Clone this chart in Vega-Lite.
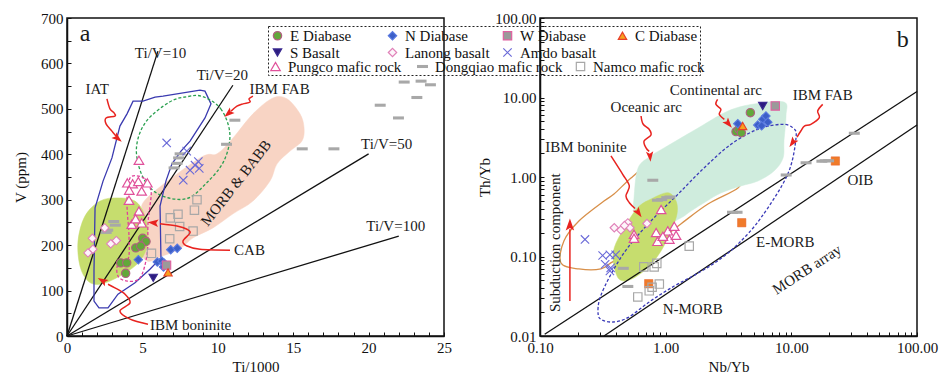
{
"$schema": "https://vega.github.io/schema/vega-lite/v6.json",
"padding": {"left": 12, "top": 10, "right": 2, "bottom": 2},
"spacing": 24,
"config": {
  "font": "Liberation Serif",
  "style": {"guide-label": {"font": "Liberation Serif"}, "guide-title": {"font": "Liberation Serif"}},
  "view": {"stroke": "#111", "strokeWidth": 1.5},
  "axis": {"labelFont": "Liberation Serif", "labelFontSize": 15, "labelColor": "#111", "titleFont": "Liberation Serif", "titleFontSize": 15, "titleFontWeight": "normal", "titleColor": "#111", "domainColor": "#111", "domainWidth": 1.5, "tickColor": "#111", "tickSize": -4, "tickWidth": 1, "labelPadding": 8, "grid": false, "labelFlush": false, "labelOverlap": false},
  "legend": {"labelFont": "Liberation Serif", "labelFontSize": 15, "labelColor": "#111", "titleFont": "Liberation Serif", "strokeDash": [2, 2], "symbolStrokeWidth": 1.2, "symbolOpacity": 1, "labelOffset": 5}
},
"datasets": {
  "ptsA": [
    {"grp":"E Diabase","x":5.02,"y":215},{"grp":"E Diabase","x":5.24,"y":208},{"grp":"E Diabase","x":4.56,"y":194},{"grp":"E Diabase","x":4.89,"y":198},{"grp":"E Diabase","x":3.56,"y":161},{"grp":"E Diabase","x":3.96,"y":161},{"grp":"E Diabase","x":3.89,"y":138},
    {"grp":"N Diabase","x":4.73,"y":168},{"grp":"N Diabase","x":6.88,"y":190},{"grp":"N Diabase","x":7.31,"y":193},{"grp":"N Diabase","x":5.99,"y":163},{"grp":"N Diabase","x":6.28,"y":165},{"grp":"N Diabase","x":6.45,"y":160},{"grp":"N Diabase","x":6.4,"y":152},
    {"grp":"W Diabase","x":6.6,"y":156},
    {"grp":"C Diabase","x":6.7,"y":140},
    {"grp":"S Basalt","x":5.72,"y":128},
    {"grp":"Lanong basalt","x":1.68,"y":215},{"grp":"Lanong basalt","x":1.39,"y":183},{"grp":"Lanong basalt","x":1.72,"y":191},{"grp":"Lanong basalt","x":2.9,"y":203},{"grp":"Lanong basalt","x":3.27,"y":210},{"grp":"Lanong basalt","x":2.5,"y":238},
    {"grp":"Amdo basalt","x":6.61,"y":425},{"grp":"Amdo basalt","x":7.71,"y":343},{"grp":"Amdo basalt","x":8.16,"y":365},{"grp":"Amdo basalt","x":8.49,"y":376},{"grp":"Amdo basalt","x":8.77,"y":369},{"grp":"Amdo basalt","x":8.71,"y":384},{"grp":"Amdo basalt","x":7.94,"y":407},
    {"grp":"Pungco mafic rock","x":4.77,"y":387},{"grp":"Pungco mafic rock","x":4.0,"y":337},{"grp":"Pungco mafic rock","x":4.35,"y":335},{"grp":"Pungco mafic rock","x":4.73,"y":340},{"grp":"Pungco mafic rock","x":5.33,"y":337},{"grp":"Pungco mafic rock","x":4.95,"y":319},{"grp":"Pungco mafic rock","x":4.13,"y":321},{"grp":"Pungco mafic rock","x":4.11,"y":299},{"grp":"Pungco mafic rock","x":4.77,"y":275},{"grp":"Pungco mafic rock","x":4.95,"y":249},{"grp":"Pungco mafic rock","x":4.29,"y":246},{"grp":"Pungco mafic rock","x":4.55,"y":258},
    {"grp":"Dongqiao mafic rock","x":3.1,"y":252},{"grp":"Dongqiao mafic rock","x":3.2,"y":244},{"grp":"Dongqiao mafic rock","x":2.7,"y":233},{"grp":"Dongqiao mafic rock","x":2.6,"y":228},{"grp":"Dongqiao mafic rock","x":7.5,"y":401},{"grp":"Dongqiao mafic rock","x":7.4,"y":392},{"grp":"Dongqiao mafic rock","x":7.3,"y":380},{"grp":"Dongqiao mafic rock","x":7.1,"y":370},{"grp":"Dongqiao mafic rock","x":11.13,"y":475},{"grp":"Dongqiao mafic rock","x":10.58,"y":422},{"grp":"Dongqiao mafic rock","x":15.6,"y":412},{"grp":"Dongqiao mafic rock","x":17.7,"y":412},{"grp":"Dongqiao mafic rock","x":20.77,"y":508},{"grp":"Dongqiao mafic rock","x":21.98,"y":480},{"grp":"Dongqiao mafic rock","x":22.36,"y":559},{"grp":"Dongqiao mafic rock","x":23.2,"y":525},{"grp":"Dongqiao mafic rock","x":23.48,"y":561},{"grp":"Dongqiao mafic rock","x":24.1,"y":553},
    {"grp":"Namco mafic rock","x":6.85,"y":260},{"grp":"Namco mafic rock","x":7.36,"y":268},{"grp":"Namco mafic rock","x":7.47,"y":241},{"grp":"Namco mafic rock","x":6.81,"y":214},{"grp":"Namco mafic rock","x":8.36,"y":231},{"grp":"Namco mafic rock","x":8.45,"y":277},{"grp":"Namco mafic rock","x":8.62,"y":300},{"grp":"Namco mafic rock","x":5.6,"y":182}
  ],
  "polyA": [
    {"id":"MORB","i":1,"x":5.31,"y":304},{"id":"MORB","i":2,"x":8.82,"y":392},{"id":"MORB","i":3,"x":9.95,"y":401},{"id":"MORB","i":4,"x":11.01,"y":436},{"id":"MORB","i":5,"x":12.33,"y":489},{"id":"MORB","i":6,"x":13.66,"y":524},{"id":"MORB","i":7,"x":14.59,"y":522},{"id":"MORB","i":8,"x":15.45,"y":489},{"id":"MORB","i":9,"x":15.72,"y":458},{"id":"MORB","i":10,"x":15.58,"y":429},{"id":"MORB","i":11,"x":14.79,"y":407},{"id":"MORB","i":12,"x":13.93,"y":379},{"id":"MORB","i":13,"x":13.46,"y":341},{"id":"MORB","i":14,"x":12.33,"y":297},{"id":"MORB","i":15,"x":11.01,"y":269},{"id":"MORB","i":16,"x":9.68,"y":238},{"id":"MORB","i":17,"x":8.36,"y":216},{"id":"MORB","i":18,"x":7.49,"y":192},{"id":"MORB","i":19,"x":6.17,"y":174},{"id":"MORB","i":20,"x":5.31,"y":165},{"id":"MORB","i":21,"x":4.84,"y":194},{"id":"MORB","i":22,"x":5.0,"y":264},
    {"id":"BON","i":1,"x":0.73,"y":209},{"id":"BON","i":2,"x":1.19,"y":264},{"id":"BON","i":3,"x":2.19,"y":297},{"id":"BON","i":4,"x":3.32,"y":304},{"id":"BON","i":5,"x":4.51,"y":297},{"id":"BON","i":6,"x":5.17,"y":264},{"id":"BON","i":7,"x":5.37,"y":209},{"id":"BON","i":8,"x":4.84,"y":165},{"id":"BON","i":9,"x":3.51,"y":132},{"id":"BON","i":10,"x":2.19,"y":114},{"id":"BON","i":11,"x":1.39,"y":121},{"id":"BON","i":12,"x":0.86,"y":154},
    {"id":"IAT","i":1,"x":4.38,"y":517},{"id":"IAT","i":2,"x":5.04,"y":517},{"id":"IAT","i":3,"x":5.84,"y":526},{"id":"IAT","i":4,"x":6.37,"y":528},{"id":"IAT","i":5,"x":8.82,"y":541},{"id":"IAT","i":6,"x":9.15,"y":539},{"id":"IAT","i":7,"x":9.55,"y":511},{"id":"IAT","i":8,"x":9.15,"y":480},{"id":"IAT","i":9,"x":8.16,"y":429},{"id":"IAT","i":10,"x":7.56,"y":407},{"id":"IAT","i":11,"x":6.96,"y":379},{"id":"IAT","i":12,"x":6.56,"y":341},{"id":"IAT","i":13,"x":6.17,"y":286},{"id":"IAT","i":14,"x":6.23,"y":172},{"id":"IAT","i":15,"x":5.5,"y":147},{"id":"IAT","i":16,"x":4.51,"y":117},{"id":"IAT","i":17,"x":3.38,"y":92},{"id":"IAT","i":18,"x":2.72,"y":62},{"id":"IAT","i":19,"x":2.12,"y":62},{"id":"IAT","i":20,"x":1.79,"y":77},{"id":"IAT","i":21,"x":1.79,"y":143},{"id":"IAT","i":22,"x":1.86,"y":282},{"id":"IAT","i":23,"x":2.39,"y":341},{"id":"IAT","i":24,"x":2.98,"y":392},{"id":"IAT","i":25,"x":3.51,"y":462},{"id":"IAT","i":26,"x":3.98,"y":489},
    {"id":"FAB","i":1,"x":9.0,"y":527},{"id":"FAB","i":2,"x":10.2,"y":500},{"id":"FAB","i":3,"x":10.8,"y":445},{"id":"FAB","i":4,"x":10.4,"y":385},{"id":"FAB","i":5,"x":9.2,"y":335},{"id":"FAB","i":6,"x":7.9,"y":302},{"id":"FAB","i":7,"x":6.2,"y":310},{"id":"FAB","i":8,"x":5.1,"y":345},{"id":"FAB","i":9,"x":4.6,"y":410},{"id":"FAB","i":10,"x":5.2,"y":470},{"id":"FAB","i":11,"x":6.8,"y":515},{"id":"FAB","i":12,"x":8.0,"y":527},
    {"id":"PUN","i":1,"x":4.31,"y":352},{"id":"PUN","i":2,"x":5.17,"y":346},{"id":"PUN","i":3,"x":5.57,"y":319},{"id":"PUN","i":4,"x":5.5,"y":286},{"id":"PUN","i":5,"x":5.37,"y":247},{"id":"PUN","i":6,"x":5.31,"y":180},{"id":"PUN","i":7,"x":4.84,"y":128},{"id":"PUN","i":8,"x":3.98,"y":121},{"id":"PUN","i":9,"x":3.38,"y":132},{"id":"PUN","i":10,"x":3.38,"y":158},{"id":"PUN","i":11,"x":4.05,"y":169},{"id":"PUN","i":12,"x":4.11,"y":220},{"id":"PUN","i":13,"x":3.98,"y":286},{"id":"PUN","i":14,"x":4.05,"y":330}
  ],
  "linesA": [
    {"id":"10","i":1,"x":0,"y":0},{"id":"10","i":2,"x":6.03,"y":627},
    {"id":"20","i":1,"x":0,"y":0},{"id":"20","i":2,"x":11.0,"y":552},
    {"id":"50","i":1,"x":0,"y":0},{"id":"50","i":2,"x":20.0,"y":401},
    {"id":"100","i":1,"x":0,"y":0},{"id":"100","i":2,"x":22.0,"y":220}
  ],
  "arrA": [
    {"id":"IAT","i":1,"x":2.65,"y":522},{"id":"IAT","i":2,"x":2.85,"y":500},{"id":"IAT","i":3,"x":3.12,"y":491},{"id":"IAT","i":4,"x":3.18,"y":484},{"id":"IAT","i":5,"x":2.59,"y":480},{"id":"IAT","i":6,"x":2.59,"y":467},{"id":"IAT","i":7,"x":2.98,"y":451},{"id":"IAT","i":8,"x":3.25,"y":440},
    {"id":"FAB","i":1,"x":12.33,"y":528},{"id":"FAB","i":2,"x":12.07,"y":522},{"id":"FAB","i":3,"x":12.14,"y":515},{"id":"FAB","i":4,"x":11.67,"y":511},{"id":"FAB","i":5,"x":11.27,"y":506},{"id":"FAB","i":6,"x":10.88,"y":495},
    {"id":"CAB","i":1,"x":10.81,"y":189},{"id":"CAB","i":2,"x":8.82,"y":191},{"id":"CAB","i":3,"x":7.96,"y":198},{"id":"CAB","i":4,"x":7.69,"y":209},{"id":"CAB","i":5,"x":8.16,"y":227},{"id":"CAB","i":6,"x":7.96,"y":235},{"id":"CAB","i":7,"x":7.29,"y":242},{"id":"CAB","i":8,"x":6.17,"y":247},
    {"id":"BON","i":1,"x":5.37,"y":26},{"id":"BON","i":2,"x":4.18,"y":37},{"id":"BON","i":3,"x":3.51,"y":55},{"id":"BON","i":4,"x":4.18,"y":73},{"id":"BON","i":5,"x":3.85,"y":92},{"id":"BON","i":6,"x":3.18,"y":106},{"id":"BON","i":7,"x":2.72,"y":114}
  ],
  "headA": [
    {"id":"IAT","x":3.32,"y":436},{"id":"FAB","x":10.74,"y":491},{"id":"CAB","x":5.77,"y":249},{"id":"BON","x":2.39,"y":121}
  ],
  "txtA": [
    {"t":"Ti/V=10","x":6.2,"y":623},{"t":"Ti/V=20","x":10.3,"y":575},{"t":"IAT","x":2.0,"y":544},{"t":"IBM  FAB","x":14.1,"y":544},{"t":"Ti/V=50","x":21.2,"y":423},{"t":"Ti/V=100","x":21.8,"y":242},{"t":"CAB","x":12.1,"y":189},{"t":"IBM  boninite","x":8.2,"y":24}
  ],
  "ptsB": [
    {"grp":"E Diabase","x":4.72,"y":6.44},{"grp":"E Diabase","x":3.63,"y":3.72},{"grp":"E Diabase","x":3.83,"y":4.0},{"grp":"E Diabase","x":4.0,"y":3.6},
    {"grp":"N Diabase","x":3.75,"y":4.68},{"grp":"N Diabase","x":5.4,"y":4.5},{"grp":"N Diabase","x":5.92,"y":5.32},{"grp":"N Diabase","x":6.28,"y":5.85},{"grp":"N Diabase","x":5.8,"y":4.4},{"grp":"N Diabase","x":6.5,"y":4.9},
    {"grp":"S Basalt","x":5.92,"y":7.82},
    {"grp":"W Diabase","x":7.45,"y":7.82},
    {"grp":"C Diabase","x":4.1,"y":4.38},
    {"grp":"Lanong basalt","x":0.39,"y":0.23},{"grp":"Lanong basalt","x":0.44,"y":0.215},{"grp":"Lanong basalt","x":0.5,"y":0.265},{"grp":"Lanong basalt","x":0.52,"y":0.23},{"grp":"Lanong basalt","x":0.71,"y":0.26},{"grp":"Lanong basalt","x":0.47,"y":0.245},
    {"grp":"Amdo basalt","x":0.228,"y":0.164},{"grp":"Amdo basalt","x":0.315,"y":0.103},{"grp":"Amdo basalt","x":0.36,"y":0.105},{"grp":"Amdo basalt","x":0.4,"y":0.105},{"grp":"Amdo basalt","x":0.33,"y":0.08},{"grp":"Amdo basalt","x":0.365,"y":0.072},{"grp":"Amdo basalt","x":0.36,"y":0.066},
    {"grp":"Pungco mafic rock","x":0.92,"y":0.39},{"grp":"Pungco mafic rock","x":0.56,"y":0.19},{"grp":"Pungco mafic rock","x":0.56,"y":0.17},{"grp":"Pungco mafic rock","x":0.84,"y":0.2},{"grp":"Pungco mafic rock","x":0.86,"y":0.155},{"grp":"Pungco mafic rock","x":1.04,"y":0.21},{"grp":"Pungco mafic rock","x":1.07,"y":0.165},{"grp":"Pungco mafic rock","x":1.17,"y":0.24},{"grp":"Pungco mafic rock","x":1.21,"y":0.185},{"grp":"Pungco mafic rock","x":0.95,"y":0.18},
    {"grp":"Dongqiao mafic rock","x":0.79,"y":0.91},{"grp":"Dongqiao mafic rock","x":0.86,"y":0.51},{"grp":"Dongqiao mafic rock","x":0.93,"y":0.52},{"grp":"Dongqiao mafic rock","x":1.02,"y":0.55},{"grp":"Dongqiao mafic rock","x":1.08,"y":0.56},{"grp":"Dongqiao mafic rock","x":3.4,"y":0.36},{"grp":"Dongqiao mafic rock","x":3.7,"y":0.36},{"grp":"Dongqiao mafic rock","x":9.1,"y":1.06},{"grp":"Dongqiao mafic rock","x":13.1,"y":1.51},{"grp":"Dongqiao mafic rock","x":17.5,"y":1.58},{"grp":"Dongqiao mafic rock","x":18.6,"y":1.6},{"grp":"Dongqiao mafic rock","x":19.8,"y":1.6},{"grp":"Dongqiao mafic rock","x":31.7,"y":3.55},{"grp":"Dongqiao mafic rock","x":0.46,"y":0.071},{"grp":"Dongqiao mafic rock","x":0.5,"y":0.042},
    {"grp":"Namco mafic rock","x":0.67,"y":0.074},{"grp":"Namco mafic rock","x":0.81,"y":0.074},{"grp":"Namco mafic rock","x":0.85,"y":0.082},{"grp":"Namco mafic rock","x":1.54,"y":0.135},{"grp":"Namco mafic rock","x":0.89,"y":0.045},{"grp":"Namco mafic rock","x":0.74,"y":0.037},{"grp":"Namco mafic rock","x":0.6,"y":0.031},{"grp":"Namco mafic rock","x":0.78,"y":0.041}
  ],
  "orangeB": [{"x":22.4,"y":1.59},{"x":4.03,"y":0.266},{"x":0.733,"y":0.0455}],
  "polyB": [
    {"id":"ORA","i":1,"x":1.21,"y":2.38},{"id":"ORA","i":2,"x":0.764,"y":1.55},{"id":"ORA","i":3,"x":0.53,"y":0.971},{"id":"ORA","i":4,"x":0.388,"y":0.611},{"id":"ORA","i":5,"x":0.323,"y":0.499},{"id":"ORA","i":6,"x":0.204,"y":0.28},{"id":"ORA","i":7,"x":0.155,"y":0.157},{"id":"ORA","i":8,"x":0.147,"y":0.0828},{"id":"ORA","i":9,"x":0.204,"y":0.0697},{"id":"ORA","i":10,"x":0.305,"y":0.0697},{"id":"ORA","i":11,"x":0.388,"y":0.0877},{"id":"ORA","i":12,"x":0.637,"y":0.117},{"id":"ORA","i":13,"x":0.918,"y":0.166},{"id":"ORA","i":14,"x":1.32,"y":0.257},{"id":"ORA","i":15,"x":2.17,"y":0.457},{"id":"ORA","i":16,"x":3.76,"y":0.728},{"id":"ORA","i":17,"x":4.05,"y":1.03},
    {"id":"PAL","i":1,"x":0.56,"y":0.545},{"id":"PAL","i":2,"x":0.603,"y":1.3},{"id":"PAL","i":3,"x":0.764,"y":1.84},{"id":"PAL","i":4,"x":0.97,"y":2.32},{"id":"PAL","i":5,"x":1.81,"y":4.13},{"id":"PAL","i":6,"x":3.13,"y":6.76},{"id":"PAL","i":7,"x":5.04,"y":8.28},{"id":"PAL","i":8,"x":8.74,"y":8.77},{"id":"PAL","i":9,"x":9.07,"y":5.85},{"id":"PAL","i":10,"x":8.74,"y":2.84},{"id":"PAL","i":11,"x":8.59,"y":1.73},{"id":"PAL","i":12,"x":7.28,"y":1.19},{"id":"PAL","i":13,"x":5.43,"y":0.891},{"id":"PAL","i":14,"x":3.97,"y":0.771},{"id":"PAL","i":15,"x":2.75,"y":0.629},{"id":"PAL","i":16,"x":2.13,"y":0.499},{"id":"PAL","i":17,"x":1.59,"y":0.373},{"id":"PAL","i":18,"x":1.32,"y":0.305},{"id":"PAL","i":19,"x":0.918,"y":0.242},{"id":"PAL","i":20,"x":0.637,"y":0.296},{"id":"PAL","i":21,"x":0.56,"y":0.373},
    {"id":"BON","i":1,"x":1.04,"y":0.635},{"id":"BON","i":2,"x":1.21,"y":0.499},{"id":"BON","i":3,"x":1.23,"y":0.34},{"id":"BON","i":4,"x":1.1,"y":0.21},{"id":"BON","i":5,"x":0.918,"y":0.117},{"id":"BON","i":6,"x":0.719,"y":0.0723},{"id":"BON","i":7,"x":0.53,"y":0.0516},{"id":"BON","i":8,"x":0.428,"y":0.0516},{"id":"BON","i":9,"x":0.386,"y":0.0798},{"id":"BON","i":10,"x":0.39,"y":0.129},{"id":"BON","i":11,"x":0.469,"y":0.23},{"id":"BON","i":12,"x":0.598,"y":0.411},{"id":"BON","i":13,"x":0.764,"y":0.528},
    {"id":"FAB","i":1,"x":10.26,"y":4.17},{"id":"FAB","i":2,"x":10.9,"y":3.12},{"id":"FAB","i":3,"x":9.35,"y":1.08},{"id":"FAB","i":4,"x":5.74,"y":0.308},{"id":"FAB","i":5,"x":3.74,"y":0.142},{"id":"FAB","i":6,"x":2.59,"y":0.088},{"id":"FAB","i":7,"x":1.75,"y":0.06},{"id":"FAB","i":8,"x":1.17,"y":0.0425},{"id":"FAB","i":9,"x":0.76,"y":0.0276},{"id":"FAB","i":10,"x":0.5,"y":0.017},{"id":"FAB","i":11,"x":0.38,"y":0.015},{"id":"FAB","i":12,"x":0.31,"y":0.016},{"id":"FAB","i":13,"x":0.29,"y":0.019},{"id":"FAB","i":14,"x":0.3,"y":0.03},{"id":"FAB","i":15,"x":0.367,"y":0.0597},{"id":"FAB","i":16,"x":0.499,"y":0.129},{"id":"FAB","i":17,"x":0.764,"y":0.28},{"id":"FAB","i":18,"x":1.25,"y":0.605},{"id":"FAB","i":19,"x":2.03,"y":1.31},{"id":"FAB","i":20,"x":3.31,"y":2.58},{"id":"FAB","i":21,"x":5.4,"y":3.98},{"id":"FAB","i":22,"x":8.28,"y":4.6}
  ],
  "linesB": [
    {"id":"up","i":1,"x":0.109,"y":0.0105},{"id":"up","i":2,"x":100,"y":11.9},
    {"id":"lo","i":1,"x":0.323,"y":0.01},{"id":"lo","i":2,"x":100,"y":4.5}
  ],
  "arrB": [
    {"id":"SUB","i":1,"x":0.173,"y":0.0276},{"id":"SUB","i":2,"x":0.173,"y":0.22},
    {"id":"OCE","i":1,"x":0.637,"y":5.85},{"id":"OCE","i":2,"x":0.661,"y":4.64},{"id":"OCE","i":3,"x":0.736,"y":4.02},{"id":"OCE","i":4,"x":0.764,"y":3.38},{"id":"OCE","i":5,"x":0.673,"y":2.84},{"id":"OCE","i":6,"x":0.698,"y":2.32},{"id":"OCE","i":7,"x":0.74,"y":2.1},
    {"id":"CON","i":1,"x":2.59,"y":9.48},{"id":"CON","i":2,"x":2.51,"y":8.2},{"id":"CON","i":3,"x":2.75,"y":7.1},{"id":"CON","i":4,"x":2.67,"y":6.15},{"id":"CON","i":5,"x":2.93,"y":5.32},
    {"id":"FAB","i":1,"x":17.77,"y":8.2},{"id":"FAB","i":2,"x":16.2,"y":6.76},{"id":"FAB","i":3,"x":16.7,"y":5.57},{"id":"FAB","i":4,"x":14.3,"y":4.6},{"id":"FAB","i":5,"x":12.7,"y":4.38},{"id":"FAB","i":6,"x":11.9,"y":3.79},{"id":"FAB","i":7,"x":11.1,"y":3.18},
    {"id":"BON","i":1,"x":0.367,"y":1.84},{"id":"BON","i":2,"x":0.455,"y":1.08},{"id":"BON","i":3,"x":0.514,"y":0.771},{"id":"BON","i":4,"x":0.483,"y":0.577},{"id":"BON","i":5,"x":0.514,"y":0.475},{"id":"BON","i":6,"x":0.571,"y":0.402}
  ],
  "headB": [
    {"id":"SUB","x":0.173,"y":0.245},{"id":"OCE","x":0.75,"y":1.85},{"id":"CON","x":3.13,"y":4.77},{"id":"FAB","x":10.3,"y":2.75},{"id":"BON","x":0.603,"y":0.36}
  ],
  "txtB": [
    {"t":"Continental arc","x":2.51,"y":12.3},{"t":"IBM  FAB","x":17.8,"y":10.7},{"t":"Oceanic arc","x":0.7,"y":7.6},{"t":"IBM  boninite","x":0.232,"y":2.38},{"t":"E-MORB","x":8.95,"y":0.1535},{"t":"OIB","x":35.4,"y":0.917},{"t":"N-MORB","x":1.64,"y":0.0217}
  ]
},
"hconcat": [
  {
    "width": 377, "height": 318,
    "encoding": {
      "x": {"field": "x", "type": "quantitative", "scale": {"domain": [0, 25], "nice": false}, "axis": {"title": "Ti/1000", "values": [0,1,2,3,4,5,6,7,8,9,10,11,12,13,14,15,16,17,18,19,20,21,22,23,24,25], "labelExpr": "datum.value % 5 === 0 ? datum.label : ''", "titlePadding": 4}},
      "y": {"field": "y", "type": "quantitative", "scale": {"domain": [0, 700], "nice": false}, "axis": {"title": "V (ppm)", "values": [0,50,100,150,200,250,300,350,400,450,500,550,600,650,700], "labelExpr": "datum.value % 100 === 0 ? datum.label : ''", "titlePadding": 12}}
    },
    "layer": [
      {"data": {"name": "polyA"}, "transform": [{"filter": "datum.id === 'MORB'"}], "mark": {"type": "line", "interpolate": "cardinal-closed", "fill": "#f8d4c4", "stroke": "#f8d4c4", "strokeWidth": 0.5}, "encoding": {"order": {"field": "i", "type": "quantitative"}}},
      {"data": {"name": "polyA"}, "transform": [{"filter": "datum.id === 'BON'"}], "mark": {"type": "line", "interpolate": "cardinal-closed", "fill": "#c6dd6e", "stroke": "#c6dd6e", "strokeWidth": 0.5}, "encoding": {"order": {"field": "i", "type": "quantitative"}}},
      {"data": {"name": "linesA"}, "mark": {"type": "line", "stroke": "#111", "strokeWidth": 1.3}, "encoding": {"detail": {"field": "id"}, "order": {"field": "i", "type": "quantitative"}}},
      {"data": {"name": "polyA"}, "transform": [{"filter": "datum.id === 'IAT'"}], "mark": {"type": "line", "interpolate": "linear-closed", "stroke": "#3a3ab0", "strokeWidth": 1.3}, "encoding": {"order": {"field": "i", "type": "quantitative"}}},
      {"data": {"name": "polyA"}, "transform": [{"filter": "datum.id === 'FAB'"}], "mark": {"type": "line", "interpolate": "cardinal-closed", "stroke": "#2aa050", "strokeWidth": 1.3, "strokeDash": [3, 2]}, "encoding": {"order": {"field": "i", "type": "quantitative"}}},
      {"data": {"name": "polyA"}, "transform": [{"filter": "datum.id === 'PUN'"}], "mark": {"type": "line", "interpolate": "cardinal-closed", "stroke": "#e0409a", "strokeWidth": 1.3, "strokeDash": [3, 2]}, "encoding": {"order": {"field": "i", "type": "quantitative"}}},
      {"data": {"name": "ptsA"}, "transform": [{"filter": "datum.grp === 'Pungco mafic rock'"}], "mark": {"type": "point", "shape": "triangle-up", "filled": false, "fill": "white", "stroke": "#e0509a", "size": 90, "opacity": 1, "strokeWidth": 1.2},
       "encoding": {"strokeDash": {"field": "grp", "type": "nominal", "scale": {"domain": ["Pungco mafic rock"], "range": [[1, 0]]},
         "legend": {"orient": "none", "legendX": 201, "legendY": 41, "title": null, "padding": 0, "symbolSize": 90, "labelFont": "Liberation Serif", "labelFontSize": 15}}}},
      {"data": {"name": "ptsA"}, "transform": [{"filter": "datum.grp === 'Dongqiao mafic rock'"}], "mark": {"type": "point", "shape": "M-1,-0.28H1V0.28H-1Z", "filled": true, "size": 120, "opacity": 1, "strokeWidth": 0},
       "encoding": {"color": {"field": "grp", "type": "nominal", "scale": {"domain": ["Dongqiao mafic rock"], "range": ["#a8a8a8"]},
         "legend": {"orient": "none", "legendX": 348, "legendY": 41, "title": null, "padding": 0, "symbolSize": 120, "symbolStrokeWidth": 0, "labelFont": "Liberation Serif", "labelFontSize": 15}}}},
      {"data": {"name": "ptsA"}, "transform": [{"filter": "datum.grp === 'Namco mafic rock'"}], "mark": {"type": "point", "shape": "square", "filled": false, "fill": "transparent", "stroke": "#a8a8a8", "size": 70, "opacity": 1, "strokeWidth": 1.2},
       "encoding": {"opacity": {"field": "grp", "type": "nominal", "scale": {"domain": ["Namco mafic rock"], "range": [1, 1]},
         "legend": {"orient": "none", "legendX": 506, "legendY": 41, "title": null, "padding": 0, "symbolSize": 70, "labelFont": "Liberation Serif", "labelFontSize": 15}}}},
      {"data": {"name": "ptsA"}, "transform": [{"filter": {"field": "grp", "oneOf": ["E Diabase", "N Diabase", "W Diabase", "C Diabase", "S Basalt", "Lanong basalt", "Amdo basalt"]}}],
       "mark": {"type": "point", "filled": true, "size": 70, "opacity": 1, "strokeWidth": 1.1},
       "encoding": {
         "shape": {"field": "grp", "type": "nominal", "scale": {"domain": ["E Diabase", "N Diabase", "W Diabase", "C Diabase", "S Basalt", "Lanong basalt", "Amdo basalt"], "range": ["circle", "diamond", "square", "triangle-up", "triangle-down", "diamond", "M-1,-1L1,1M-1,1L1,-1"]},
           "legend": {"orient": "none", "legendX": 201, "legendY": 8, "columns": 4, "direction": "horizontal", "gridAlign": "all", "columnPadding": 10, "rowPadding": 1, "title": " ", "titleOrient": "bottom", "titleFontSize": 11, "titlePadding": 1, "padding": 2, "strokeColor": "#222", "symbolSize": 70, "labelFont": "Liberation Serif", "labelFontSize": 15}},
         "fill": {"field": "grp", "type": "nominal", "scale": {"domain": ["E Diabase", "N Diabase", "W Diabase", "C Diabase", "S Basalt", "Lanong basalt", "Amdo basalt"], "range": ["#62a83a", "#3c5fc8", "#9a9a9a", "#f6a21e", "#2c1b80", "#fdf5fa", "transparent"]}},
         "stroke": {"field": "grp", "type": "nominal", "scale": {"domain": ["E Diabase", "N Diabase", "W Diabase", "C Diabase", "S Basalt", "Lanong basalt", "Amdo basalt"], "range": ["#b06080", "#5a7ae0", "#e060a0", "#e8402a", "#3a2a90", "#e080b8", "#6a6ad8"]}}
       }},
      {"data": {"name": "arrA"}, "mark": {"type": "line", "interpolate": "cardinal", "stroke": "#e8231f", "strokeWidth": 1.5}, "encoding": {"detail": {"field": "id"}, "order": {"field": "i", "type": "quantitative"}}},
      {"data": {"name": "headA"}, "transform": [{"filter": "datum.id === 'IAT'"}], "mark": {"type": "point", "shape": "M0,-1L0.6,0.7L0,0.35L-0.6,0.7Z", "filled": true, "fill": "#e8231f", "strokeWidth": 0, "size": 150, "angle": 130, "opacity": 1}},
      {"data": {"name": "headA"}, "transform": [{"filter": "datum.id === 'FAB'"}], "mark": {"type": "point", "shape": "M0,-1L0.6,0.7L0,0.35L-0.6,0.7Z", "filled": true, "fill": "#e8231f", "strokeWidth": 0, "size": 150, "angle": 230, "opacity": 1}},
      {"data": {"name": "headA"}, "transform": [{"filter": "datum.id === 'CAB'"}], "mark": {"type": "point", "shape": "M0,-1L0.6,0.7L0,0.35L-0.6,0.7Z", "filled": true, "fill": "#e8231f", "strokeWidth": 0, "size": 150, "angle": 275, "opacity": 1}},
      {"data": {"name": "headA"}, "transform": [{"filter": "datum.id === 'BON'"}], "mark": {"type": "point", "shape": "M0,-1L0.6,0.7L0,0.35L-0.6,0.7Z", "filled": true, "fill": "#e8231f", "strokeWidth": 0, "size": 150, "angle": 300, "opacity": 1}},
      {"data": {"name": "txtA"}, "mark": {"type": "text", "font": "Liberation Serif", "fontSize": 15, "fill": "#1a1a1a"}, "encoding": {"text": {"field": "t"}}},
      {"data": {"values": [{"t": "MORB & BABB", "x": 11.2, "y": 337}]}, "mark": {"type": "text", "font": "Liberation Serif", "fontSize": 15, "fill": "#1a1a1a", "angle": -52}, "encoding": {"text": {"field": "t"}}},
      {"data": {"values": [{"t": "a", "x": 1.2, "y": 665}]}, "mark": {"type": "text", "font": "Liberation Serif", "fontSize": 24, "fill": "#1a1a1a"}, "encoding": {"text": {"field": "t"}}}
    ]
  },
  {
    "width": 377, "height": 318,
    "encoding": {
      "x": {"field": "x", "type": "quantitative", "scale": {"type": "log", "domain": [0.1, 100], "nice": false}, "axis": {"title": "Nb/Yb", "values": [0.1,0.2,0.3,0.4,0.5,0.6,0.7,0.8,0.9,1,2,3,4,5,6,7,8,9,10,20,30,40,50,60,70,80,90,100], "labelExpr": "indexof([0.1,1,10,100], datum.value) >= 0 ? format(datum.value, '.2f') : ''", "titlePadding": 4}},
      "y": {"field": "y", "type": "quantitative", "scale": {"type": "log", "domain": [0.01, 100], "nice": false}, "axis": {"title": "Th/Yb", "values": [0.01,0.02,0.03,0.04,0.05,0.06,0.07,0.08,0.09,0.1,0.2,0.3,0.4,0.5,0.6,0.7,0.8,0.9,1,2,3,4,5,6,7,8,9,10,20,30,40,50,60,70,80,90,100], "labelExpr": "indexof([0.01,0.1,1,10,100], datum.value) >= 0 ? format(datum.value, '.2f') : ''", "titlePadding": 2}}
    },
    "layer": [
      {"data": {"name": "polyB"}, "transform": [{"filter": "datum.id === 'ORA'"}], "mark": {"type": "line", "interpolate": "cardinal", "stroke": "#d8904a", "strokeWidth": 1.3}, "encoding": {"order": {"field": "i", "type": "quantitative"}}},
      {"data": {"name": "polyB"}, "transform": [{"filter": "datum.id === 'PAL'"}], "mark": {"type": "line", "interpolate": "cardinal-closed", "fill": "#cfecdd", "stroke": "#cfecdd", "strokeWidth": 0.5}, "encoding": {"order": {"field": "i", "type": "quantitative"}}},
      {"data": {"name": "polyB"}, "transform": [{"filter": "datum.id === 'BON'"}], "mark": {"type": "line", "interpolate": "cardinal-closed", "fill": "#c6dd6e", "stroke": "#c6dd6e", "strokeWidth": 0.5}, "encoding": {"order": {"field": "i", "type": "quantitative"}}},
      {"data": {"name": "linesB"}, "mark": {"type": "line", "stroke": "#111", "strokeWidth": 1.3}, "encoding": {"detail": {"field": "id"}, "order": {"field": "i", "type": "quantitative"}}},
      {"data": {"name": "polyB"}, "transform": [{"filter": "datum.id === 'FAB'"}], "mark": {"type": "line", "interpolate": "cardinal-closed", "stroke": "#3a3ab8", "strokeWidth": 1.3, "strokeDash": [3, 2]}, "encoding": {"order": {"field": "i", "type": "quantitative"}}},
      {"data": {"name": "orangeB"}, "mark": {"type": "point", "shape": "square", "filled": true, "fill": "#f07b2a", "stroke": "#e8602a", "strokeWidth": 0.5, "size": 70, "opacity": 1}},
      {"data": {"name": "ptsB"}, "transform": [{"filter": "datum.grp === 'Pungco mafic rock'"}], "mark": {"type": "point", "shape": "triangle-up", "filled": false, "fill": "white", "stroke": "#e0509a", "size": 90, "opacity": 1, "strokeWidth": 1.2},
       "encoding": {"strokeDash": {"field": "grp", "type": "nominal", "scale": {"domain": ["Pungco mafic rock"], "range": [[1, 0]]},
         "legend": {"orient": "none", "legendX": 201, "legendY": 41, "title": null, "padding": 0, "symbolSize": 90, "labelFont": "Liberation Serif", "labelFontSize": 15}}}},
      {"data": {"name": "ptsB"}, "transform": [{"filter": "datum.grp === 'Dongqiao mafic rock'"}], "mark": {"type": "point", "shape": "M-1,-0.28H1V0.28H-1Z", "filled": true, "size": 120, "opacity": 1, "strokeWidth": 0},
       "encoding": {"color": {"field": "grp", "type": "nominal", "scale": {"domain": ["Dongqiao mafic rock"], "range": ["#a8a8a8"]},
         "legend": {"orient": "none", "legendX": 348, "legendY": 41, "title": null, "padding": 0, "symbolSize": 120, "symbolStrokeWidth": 0, "labelFont": "Liberation Serif", "labelFontSize": 15}}}},
      {"data": {"name": "ptsB"}, "transform": [{"filter": "datum.grp === 'Namco mafic rock'"}], "mark": {"type": "point", "shape": "square", "filled": false, "fill": "transparent", "stroke": "#a8a8a8", "size": 70, "opacity": 1, "strokeWidth": 1.2},
       "encoding": {"opacity": {"field": "grp", "type": "nominal", "scale": {"domain": ["Namco mafic rock"], "range": [1, 1]},
         "legend": {"orient": "none", "legendX": 506, "legendY": 41, "title": null, "padding": 0, "symbolSize": 70, "labelFont": "Liberation Serif", "labelFontSize": 15}}}},
      {"data": {"name": "ptsB"}, "transform": [{"filter": {"field": "grp", "oneOf": ["E Diabase", "N Diabase", "W Diabase", "C Diabase", "S Basalt", "Lanong basalt", "Amdo basalt"]}}],
       "mark": {"type": "point", "filled": true, "size": 70, "opacity": 1, "strokeWidth": 1.1},
       "encoding": {
         "shape": {"field": "grp", "type": "nominal", "scale": {"domain": ["E Diabase", "N Diabase", "W Diabase", "C Diabase", "S Basalt", "Lanong basalt", "Amdo basalt"], "range": ["circle", "diamond", "square", "triangle-up", "triangle-down", "diamond", "M-1,-1L1,1M-1,1L1,-1"]},
           "legend": {"orient": "none", "legendX": 201, "legendY": 8, "columns": 4, "direction": "horizontal", "gridAlign": "all", "columnPadding": 10, "rowPadding": 1, "title": " ", "titleOrient": "bottom", "titleFontSize": 11, "titlePadding": 1, "padding": 2, "strokeColor": "#222", "symbolSize": 70, "labelFont": "Liberation Serif", "labelFontSize": 15}},
         "fill": {"field": "grp", "type": "nominal", "scale": {"domain": ["E Diabase", "N Diabase", "W Diabase", "C Diabase", "S Basalt", "Lanong basalt", "Amdo basalt"], "range": ["#62a83a", "#3c5fc8", "#9a9a9a", "#f6a21e", "#2c1b80", "#fdf5fa", "transparent"]}},
         "stroke": {"field": "grp", "type": "nominal", "scale": {"domain": ["E Diabase", "N Diabase", "W Diabase", "C Diabase", "S Basalt", "Lanong basalt", "Amdo basalt"], "range": ["#b06080", "#5a7ae0", "#e060a0", "#e8402a", "#3a2a90", "#e080b8", "#6a6ad8"]}}
       }},
      {"data": {"name": "arrB"}, "mark": {"type": "line", "interpolate": "cardinal", "stroke": "#e8231f", "strokeWidth": 1.5}, "encoding": {"detail": {"field": "id"}, "order": {"field": "i", "type": "quantitative"}}},
      {"data": {"name": "headB"}, "transform": [{"filter": "datum.id === 'SUB'"}], "mark": {"type": "point", "shape": "M0,-1L0.6,0.7L0,0.35L-0.6,0.7Z", "filled": true, "fill": "#e8231f", "strokeWidth": 0, "size": 200, "angle": 0, "opacity": 1}},
      {"data": {"name": "headB"}, "transform": [{"filter": "datum.id === 'OCE'"}], "mark": {"type": "point", "shape": "M0,-1L0.6,0.7L0,0.35L-0.6,0.7Z", "filled": true, "fill": "#e8231f", "strokeWidth": 0, "size": 150, "angle": 175, "opacity": 1}},
      {"data": {"name": "headB"}, "transform": [{"filter": "datum.id === 'CON'"}], "mark": {"type": "point", "shape": "M0,-1L0.6,0.7L0,0.35L-0.6,0.7Z", "filled": true, "fill": "#e8231f", "strokeWidth": 0, "size": 150, "angle": 140, "opacity": 1}},
      {"data": {"name": "headB"}, "transform": [{"filter": "datum.id === 'FAB'"}], "mark": {"type": "point", "shape": "M0,-1L0.6,0.7L0,0.35L-0.6,0.7Z", "filled": true, "fill": "#e8231f", "strokeWidth": 0, "size": 150, "angle": 215, "opacity": 1}},
      {"data": {"name": "headB"}, "transform": [{"filter": "datum.id === 'BON'"}], "mark": {"type": "point", "shape": "M0,-1L0.6,0.7L0,0.35L-0.6,0.7Z", "filled": true, "fill": "#e8231f", "strokeWidth": 0, "size": 150, "angle": 145, "opacity": 1}},
      {"data": {"name": "txtB"}, "mark": {"type": "text", "font": "Liberation Serif", "fontSize": 15, "fill": "#1a1a1a"}, "encoding": {"text": {"field": "t"}}},
      {"data": {"values": [{"t": "MORB array", "x": 13.3, "y": 0.069}]}, "mark": {"type": "text", "font": "Liberation Serif", "fontSize": 15, "fill": "#1a1a1a", "angle": -33}, "encoding": {"text": {"field": "t"}}},
      {"data": {"values": [{"t": "Subduction component", "x": 0.1324, "y": 0.149}]}, "mark": {"type": "text", "font": "Liberation Serif", "fontSize": 15, "fill": "#1a1a1a", "angle": -90}, "encoding": {"text": {"field": "t"}}},
      {"data": {"values": [{"t": "b", "x": 76.9, "y": 52.4}]}, "mark": {"type": "text", "font": "Liberation Serif", "fontSize": 24, "fill": "#1a1a1a"}, "encoding": {"text": {"field": "t"}}}
    ]
  }
]
}
